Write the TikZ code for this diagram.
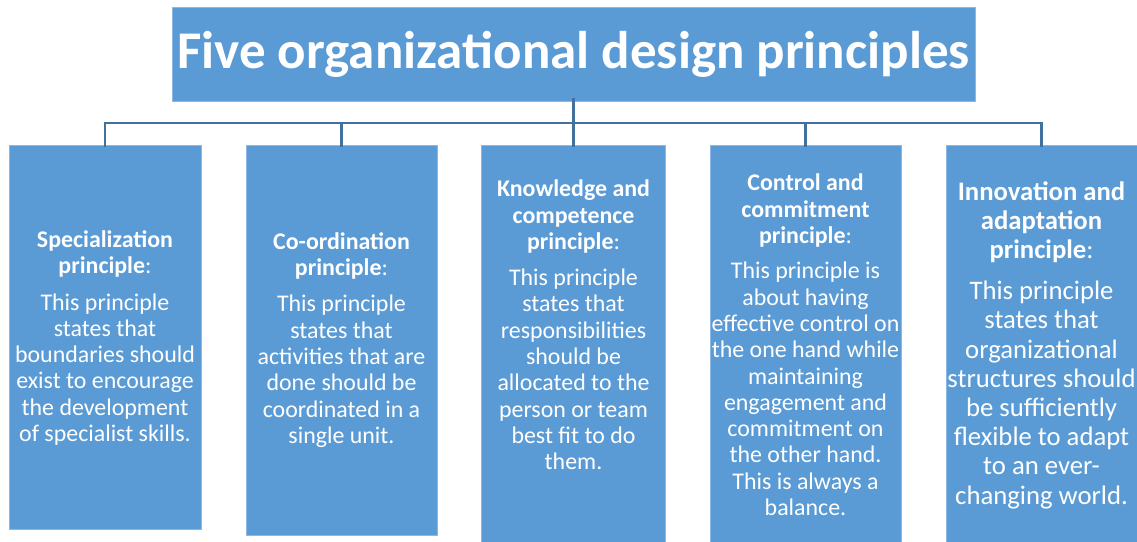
\documentclass[tikz,border=0pt]{standalone}
\usepackage{fontspec}
\setmainfont{Carlito}
\definecolor{boxfill}{RGB}{91,155,213}
\definecolor{boxedge}{RGB}{140,185,228}
\definecolor{connc}{RGB}{65,113,156}
\tikzset{
  pbox/.style={draw=boxedge, line width=0.8pt, fill=boxfill, inner sep=0pt},
  ptext/.style={text=white, align=center, inner sep=0pt, font=\fontsize{23.9}{26.3}\selectfont},
  conn/.style={draw=connc, line width=2.6pt}
}
\newcommand{\hd}[1]{{\fontsize{23.9}{26.3}\selectfont\bfseries #1}}
\newcommand{\hdb}[1]{{\fontsize{26.7}{29.2}\selectfont\bfseries #1}}
\begin{document}
\begin{tikzpicture}[x=1pt,y=-1pt]
\useasboundingbox (0,0) rectangle (1137,541);
% title
\node[pbox, minimum width=803pt, minimum height=94pt, text=white,
      font=\fontsize{53}{60}\selectfont\bfseries] (title) at (573.5,54) {Five organizational design principles};
% boxes
\node[pbox, minimum width=192pt, minimum height=384pt] (b1) at (105,337) {};
\node[pbox, minimum width=191pt, minimum height=390pt] (b2) at (341.5,340) {};
\node[pbox, minimum width=184pt, minimum height=398pt] (b3) at (573.5,344) {};
\node[pbox, minimum width=191pt, minimum height=398pt] (b4) at (805.5,344) {};
\node[pbox, minimum width=191pt, minimum height=398pt] (b5) at (1041.5,344) {};
% connectors
\coordinate (bus) at (573.5,123);
\draw[conn] ([yshift=3pt]title.south) -- (bus);
\foreach \i in {1,...,5}{
  \draw[conn] ([yshift=-2pt]b\i.north) -- (b\i.north |- bus);
}
\draw[conn] ([xshift=-1.3pt]b1.north |- bus) -- ([xshift=1.3pt]b5.north |- bus);
% texts
\node[ptext] (t1) at (105,338) {\hd{Specialization}\\\hd{principle}:\\[10pt]
This principle\\states that\\boundaries should\\exist to encourage\\the development\\of specialist skills.};
\node[ptext] (t2) at (341.5,340) {\hd{Co-ordination}\\\hd{principle}:\\[10pt]
This principle\\states that\\activities that are\\done should be\\coordinated in a\\single unit.};
\node[ptext] (t3) at (573.5,325) {\hd{Knowledge and}\\\hd{competence}\\\hd{principle}:\\[10pt]
This principle\\states that\\responsibilities\\should be\\allocated to the\\person or team\\best fit to do\\them.};
\node[ptext] (t4) at (805.5,345) {\hd{Control and}\\\hd{commitment}\\\hd{principle}:\\[9pt]
This principle is\\about having\\effective control on\\the one hand while\\maintaining\\engagement and\\commitment on\\the other hand.\\This is always a\\balance.};
\node[ptext, font=\fontsize{26.7}{29.2}\selectfont] (t5) at (1041.5,345) {\hdb{Innovation and}\\\hdb{adaptation}\\\hdb{principle}:\\[12pt]
This principle\\states that\\organizational\\structures should\\be sufficiently\\flexible to adapt\\to an ever-\\changing world.};
\end{tikzpicture}
\end{document}
